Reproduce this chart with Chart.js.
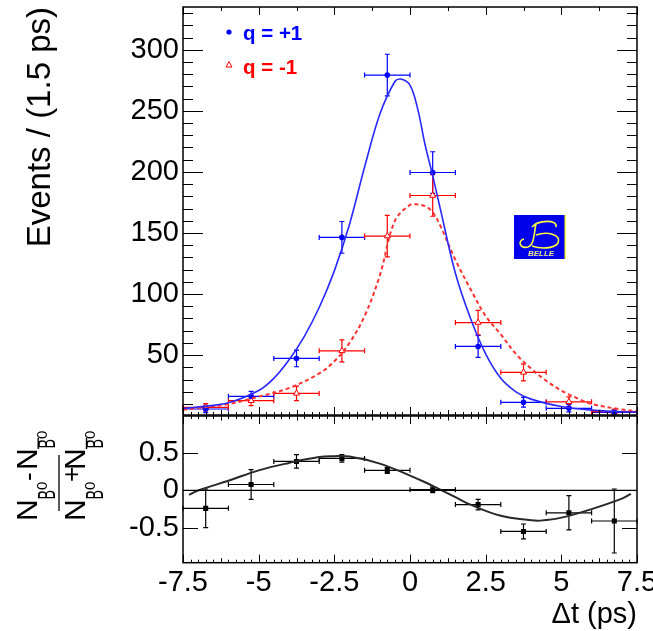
<!DOCTYPE html>
<html>
<head>
<meta charset="utf-8">
<script src="https://cdn.jsdelivr.net/npm/chart.js@4.4.1/dist/chart.umd.min.js"></script>
<style>
html, body { margin: 0; padding: 0; background: #fff; overflow: hidden; width: 653px; height: 631px; }
canvas { position: absolute; left: 0; }
#top { top: 0; }
#bottom { top: 410px; }
</style>
</head>
<body>
<canvas id="top" width="653" height="420"></canvas>
<canvas id="bottom" width="653" height="225"></canvas>
<script>
// bins of 1.5 ps
const binCenters = [-6.75, -5.25, -3.75, -2.25, -0.75, 0.75, 2.25, 3.75, 5.25, 6.75];
const binHalfWidth = 0.75;

// q = +1 (blue) and q = -1 (red) event counts
const qPlusCounts  = [5.9, 16.3, 47.3, 146.4, 279.3, 199.5, 57.1, 11.4, 6.5, 3.2];
const qPlusErrors  = [3, 4, 6.8, 13, 17, 17, 9, 4, 3, 2];
const qMinusCounts = [7.3, 12.7, 18.7, 53.5, 147.5, 180.7, 76.7, 35.9, 11.8, 3.7];
const qMinusErrors = [3, 4, 6, 9, 17, 17, 10, 7, 4, 2];

// fit curves
const blueCurveX = [-7.5, -7, -6, -5, -4.5, -4, -3.5, -3, -2.5, -2, -1.5, -1, -0.5, -0.3, 0, 0.25, 0.5, 0.75, 1, 1.5, 2, 2.5, 3, 3.5, 4, 5, 6, 7, 7.5];
const blueCurveY = [6.4, 7.5, 11, 21, 31, 46, 65, 89, 119, 157, 204, 247, 274, 276, 271, 252, 222, 197, 170, 117, 80, 51, 31, 20, 14, 8, 5, 3.7, 3.2];
const redCurveX = [-7.5, -6, -5, -4, -3, -2.5, -2, -1.5, -1, -0.5, 0, 0.2, 0.5, 0.75, 1, 1.5, 2, 2.5, 3, 3.5, 4, 4.5, 5, 5.5, 6, 7, 7.5];
const redCurveY = [5.3, 10, 16, 23, 35, 45, 60, 82, 115, 160, 173, 173.5, 172, 167, 156, 128, 104, 82, 67, 51, 39, 29, 21, 15, 10, 5.5, 4];

// asymmetry panel
const asymValues = [-0.24, 0.08, 0.39, 0.43, 0.27, 0.01, -0.19, -0.55, -0.30, -0.41];
const asymErrors = [0.26, 0.2, 0.09, 0.05, 0.04, 0.04, 0.07, 0.1, 0.23, 0.43];
const asymCurveX = [-7.3, -7, -6, -5, -4, -3, -2.5, -2, -1, 0, 0.5, 1, 1.5, 2, 3, 4, 4.3, 5, 6, 7, 7.3];
const asymCurveY = [-0.06, 0, 0.13, 0.27, 0.37, 0.45, 0.46, 0.455, 0.36, 0.2, 0.11, 0.01, -0.09, -0.19, -0.34, -0.40, -0.405, -0.365, -0.25, -0.11, -0.045];

// tick labels
const xTicks = [-7.5, -5, -2.5, 0, 2.5, 5, 7.5];
const topYTicks = [50, 100, 150, 200, 250, 300];
const bottomYTicks = [-0.5, 0, 0.5];

const BLUE = 'rgb(0,0,255)';
const BLUE_LINE = 'rgb(40,40,255)';
const RED = 'rgb(255,0,0)';
const RED_LINE = 'rgb(255,50,50)';

Chart.defaults.font.family = "'Liberation Sans', Arial, sans-serif";
Chart.defaults.color = '#000';
Chart.defaults.animation = false;

function pts(xs, ys) {
    return xs.map((x, i) => ({x: x, y: ys[i]}));
}

function drawErrorBars(chart) {
    const ctx = chart.ctx;
    const x = chart.scales.x, y = chart.scales.y;
    chart.data.datasets.forEach(ds => {
        if (!ds.errY) return;
        ctx.save();
        ctx.strokeStyle = ds.errColor;
        ctx.lineWidth = 1.2;
        ds.data.forEach((p, j) => {
            const cx = x.getPixelForValue(p.x), cy = y.getPixelForValue(p.y);
            const x0 = x.getPixelForValue(p.x - ds.errX), x1 = x.getPixelForValue(p.x + ds.errX);
            const y0 = y.getPixelForValue(p.y - ds.errY[j]), y1 = y.getPixelForValue(p.y + ds.errY[j]);
            ctx.beginPath();
            ctx.moveTo(x0, cy); ctx.lineTo(x1, cy);
            ctx.moveTo(x0, cy - 2.5); ctx.lineTo(x0, cy + 2.5);
            ctx.moveTo(x1, cy - 2.5); ctx.lineTo(x1, cy + 2.5);
            ctx.moveTo(cx, y0); ctx.lineTo(cx, y1);
            ctx.moveTo(cx - 2.5, y0); ctx.lineTo(cx + 2.5, y0);
            ctx.moveTo(cx - 2.5, y1); ctx.lineTo(cx + 2.5, y1);
            ctx.stroke();
        });
        ctx.restore();
    });
}

// ROOT style ticks inside the frame
function drawXTicks(ctx, chart, yEdge, dir, lens) {
    const x = chart.scales.x;
    for (let k = -30; k <= 30; k++) {
        let len = lens[2];
        if (k % 10 === 0) len = lens[0];
        else if (k % 5 === 0) len = lens[1];
        if (!len) continue;
        const px = Math.round(x.getPixelForValue(k / 4)) + 0.5;
        ctx.moveTo(px, yEdge);
        ctx.lineTo(px, yEdge + dir * len);
    }
}

function drawFrame(chart) {
    const a = chart.chartArea, ctx = chart.ctx;
    ctx.save();
    ctx.strokeStyle = '#000';
    ctx.lineWidth = 1.5;
    ctx.strokeRect(a.left, a.top, a.right - a.left, a.bottom - a.top);
    ctx.restore();
}

const topDecor = {
    id: 'topDecor',
    beforeDatasetsDraw(chart) { drawErrorBars(chart); },
    afterDraw(chart) {
        const ctx = chart.ctx, a = chart.chartArea, y = chart.scales.y;
        drawFrame(chart);
        ctx.save();
        ctx.strokeStyle = '#000';
        ctx.lineWidth = 1;
        ctx.beginPath();
        for (let v = 10; v <= 330; v += 10) {
            const py = Math.round(y.getPixelForValue(v)) + 0.5;
            const len = v % 50 === 0 ? 20 : 10;
            ctx.moveTo(a.left, py); ctx.lineTo(a.left + len, py);
            ctx.moveTo(a.right, py); ctx.lineTo(a.right - len, py);
        }
        drawXTicks(ctx, chart, a.bottom, -1, [8, 5, 3]);
        drawXTicks(ctx, chart, a.top, 1, [8, 4, 0]);
        ctx.stroke();

        // legend
        const lx = a.left + 46;
        ctx.fillStyle = BLUE;
        ctx.beginPath();
        ctx.arc(lx, a.top + 25, 2.6, 0, Math.PI * 2);
        ctx.fill();
        ctx.font = "bold 20.5px 'Liberation Sans', Arial, sans-serif";
        ctx.textBaseline = 'alphabetic';
        ctx.fillText('q = +1', lx + 14, a.top + 32.5);
        ctx.strokeStyle = RED;
        ctx.fillStyle = '#fff';
        ctx.lineWidth = 1;
        ctx.beginPath();
        ctx.moveTo(lx, a.top + 54.5);
        ctx.lineTo(lx + 3, a.top + 60);
        ctx.lineTo(lx - 3, a.top + 60);
        ctx.closePath();
        ctx.fill(); ctx.stroke();
        ctx.fillStyle = RED;
        ctx.fillText('q = -1', lx + 14, a.top + 66.5);

        // BELLE logo
        const bx = 514, by = 215, bw = 52, bh = 44;
        ctx.fillStyle = 'rgb(0,0,235)';
        ctx.fillRect(bx, by, bw, bh);
        ctx.fillStyle = 'rgb(255,255,60)';
        ctx.fillRect(bx + bw - 1.5, by, 1.5, bh);
        ctx.strokeStyle = 'rgb(255,255,60)';
        ctx.lineWidth = 1.6;
        ctx.beginPath();
        ctx.moveTo(bx + 18, by + 12);
        ctx.bezierCurveTo(bx + 24, by + 5, bx + 44, by + 4, bx + 42, by + 12);
        ctx.moveTo(bx + 22, by + 8);
        ctx.bezierCurveTo(bx + 20, by + 20, bx + 20, by + 30, bx + 14, by + 32);
        ctx.bezierCurveTo(bx + 6, by + 34, bx + 3, by + 26, bx + 10, by + 24);
        ctx.moveTo(bx + 22, by + 20);
        ctx.bezierCurveTo(bx + 34, by + 16, bx + 48, by + 20, bx + 44, by + 28);
        ctx.bezierCurveTo(bx + 40, by + 34, bx + 26, by + 34, bx + 18, by + 31);
        ctx.stroke();
        ctx.fillStyle = 'rgb(230,230,140)';
        ctx.font = "italic bold 8px 'Liberation Sans', Arial, sans-serif";
        ctx.textAlign = 'center';
        ctx.fillText('BELLE', bx + 27, by + 41);
        ctx.restore();
    }
};

function rotText(ctx, txt, x, y, size, squeeze) {
    ctx.save();
    ctx.translate(x, y);
    ctx.rotate(-Math.PI / 2);
    if (squeeze) ctx.scale(squeeze, 1);
    ctx.font = size + "px 'Liberation Sans', Arial, sans-serif";
    ctx.textBaseline = 'alphabetic';
    ctx.textAlign = 'left';
    ctx.fillText(txt, 0, 0);
    ctx.restore();
}

// N_{B0} -/+ N_{B0bar} written vertically
function drawNTerm(ctx, x0, y0, withBar) {
    rotText(ctx, 'N', x0, y0, 30);
    rotText(ctx, 'B', x0 + 18, y0 - 21.5, 23, 0.62);
    rotText(ctx, '0', x0 + 10, y0 - 31, 15);
    if (withBar) {
        ctx.save();
        ctx.strokeStyle = '#000';
        ctx.lineWidth = 1.4;
        ctx.beginPath();
        ctx.moveTo(x0 + 1.5, y0 - 21);
        ctx.lineTo(x0 + 1.5, y0 - 32);
        ctx.stroke();
        ctx.restore();
    }
}

function drawAsymTitle(ctx) {
    const off = 410;
    ctx.save();
    ctx.fillStyle = '#000';
    // numerator
    drawNTerm(ctx, 36.7, 521 - off, false);
    rotText(ctx, '-', 36.7, 481 - off, 26);
    drawNTerm(ctx, 36.7, 470 - off, true);
    // denominator
    drawNTerm(ctx, 85, 521 - off, false);
    rotText(ctx, '+', 80, 482 - off, 26);
    drawNTerm(ctx, 85, 470 - off, true);
    // fraction bar
    ctx.strokeStyle = '#000';
    ctx.lineWidth = 1.3;
    ctx.beginPath();
    ctx.moveTo(59, 455 - off);
    ctx.lineTo(59, 511 - off);
    ctx.stroke();
    ctx.restore();
}

const bottomDecor = {
    id: 'bottomDecor',
    beforeDatasetsDraw(chart) { drawErrorBars(chart); },
    afterDraw(chart) {
        const ctx = chart.ctx, a = chart.chartArea, y = chart.scales.y;
        drawFrame(chart);
        ctx.save();
        ctx.strokeStyle = '#000';
        ctx.lineWidth = 1;
        ctx.beginPath();
        bottomYTicks.forEach(v => {
            const py = Math.round(y.getPixelForValue(v)) + 0.5;
            ctx.moveTo(a.left, py); ctx.lineTo(a.left + 15, py);
            ctx.moveTo(a.right, py); ctx.lineTo(a.right - 15, py);
        });
        drawXTicks(ctx, chart, a.bottom, -1, [8, 4.5, 3]);
        drawXTicks(ctx, chart, a.top, 1, [8, 4.5, 3]);
        ctx.stroke();
        ctx.restore();
        drawAsymTitle(ctx);
    }
};

function fixWidth(w) {
    return s => { s.width = w; s.paddingTop = 0; s.paddingBottom = 0; s.paddingLeft = 0; s.paddingRight = 0; };
}
function fixHeight(h) {
    return s => { s.height = h; s.paddingTop = 0; s.paddingBottom = 0; s.paddingLeft = 0; s.paddingRight = 0; };
}
function setTicks(list) {
    return s => { s.ticks = list.map(v => ({value: v})); };
}

new Chart(document.getElementById('top'), {
    type: 'scatter',
    data: {
        datasets: [
            {
                type: 'line', data: pts(blueCurveX, blueCurveY), borderColor: BLUE_LINE, borderWidth: 1.6,
                pointRadius: 0, tension: 0.35, fill: false
            },
            {
                type: 'line', data: pts(redCurveX, redCurveY), borderColor: RED_LINE, borderWidth: 2,
                borderDash: [4, 3], pointRadius: 0, tension: 0.35, fill: false
            },
            {
                data: pts(binCenters, qPlusCounts), errY: qPlusErrors, errX: binHalfWidth, errColor: BLUE,
                pointStyle: 'circle', pointRadius: 2.8, backgroundColor: BLUE, borderColor: BLUE, borderWidth: 0
            },
            {
                data: pts(binCenters, qMinusCounts), errY: qMinusErrors, errX: binHalfWidth, errColor: RED,
                pointStyle: 'triangle', pointRadius: 3.5, backgroundColor: '#fff', borderColor: RED, borderWidth: 1
            }
        ]
    },
    options: {
        responsive: false,
        animation: false,
        layout: {padding: {top: 7, right: 16, bottom: 4, left: 0}},
        plugins: {legend: {display: false}, tooltip: {enabled: false}},
        scales: {
            x: {type: 'linear', min: -7.5, max: 7.5, display: false},
            y: {
                type: 'linear', min: 1, max: 335,
                afterFit: fixWidth(183),
                afterBuildTicks: setTicks(topYTicks),
                grid: {display: false, drawTicks: false},
                border: {display: false},
                ticks: {font: {size: 29}, padding: 4, callback: v => String(v)},
                title: {display: true, text: 'Events / (1.5 ps)', align: 'end', font: {size: 33}, padding: {top: 21, bottom: 0}}
            }
        }
    },
    plugins: [topDecor]
});

new Chart(document.getElementById('bottom'), {
    type: 'scatter',
    data: {
        datasets: [
            {
                type: 'line', data: pts([-7.5, 7.5], [0, 0]), borderColor: '#000', borderWidth: 1.2,
                pointRadius: 0, fill: false
            },
            {
                type: 'line', data: pts(asymCurveX, asymCurveY), borderColor: 'rgb(40,40,40)', borderWidth: 2,
                pointRadius: 0, tension: 0.4, fill: false
            },
            {
                data: pts(binCenters, asymValues), errY: asymErrors, errX: binHalfWidth, errColor: '#000',
                pointStyle: 'rect', pointRadius: 3.6, backgroundColor: '#000', borderColor: '#000', borderWidth: 0
            }
        ]
    },
    options: {
        responsive: false,
        animation: false,
        layout: {padding: {top: 6, right: 16, bottom: 0, left: 0}},
        plugins: {legend: {display: false}, tooltip: {enabled: false}},
        scales: {
            x: {
                type: 'linear', min: -7.5, max: 7.5,
                afterFit: fixHeight(72.3),
                afterBuildTicks: setTicks(xTicks),
                grid: {display: false, drawTicks: false},
                border: {display: false},
                ticks: {font: {size: 29}, padding: 3, maxRotation: 0, autoSkip: false, callback: v => String(v)},
                title: {display: true, text: 'Δt (ps)', align: 'end', font: {size: 29}, padding: {top: 0, bottom: 2.6}}
            },
            y: {
                type: 'linear', min: -0.97, max: 1.0,
                afterFit: fixWidth(183),
                afterBuildTicks: setTicks(bottomYTicks),
                grid: {display: false, drawTicks: false},
                border: {display: false},
                ticks: {font: {size: 29}, padding: 4, callback: v => String(v)}
            }
        }
    },
    plugins: [bottomDecor]
});
</script>
</body>
</html>
